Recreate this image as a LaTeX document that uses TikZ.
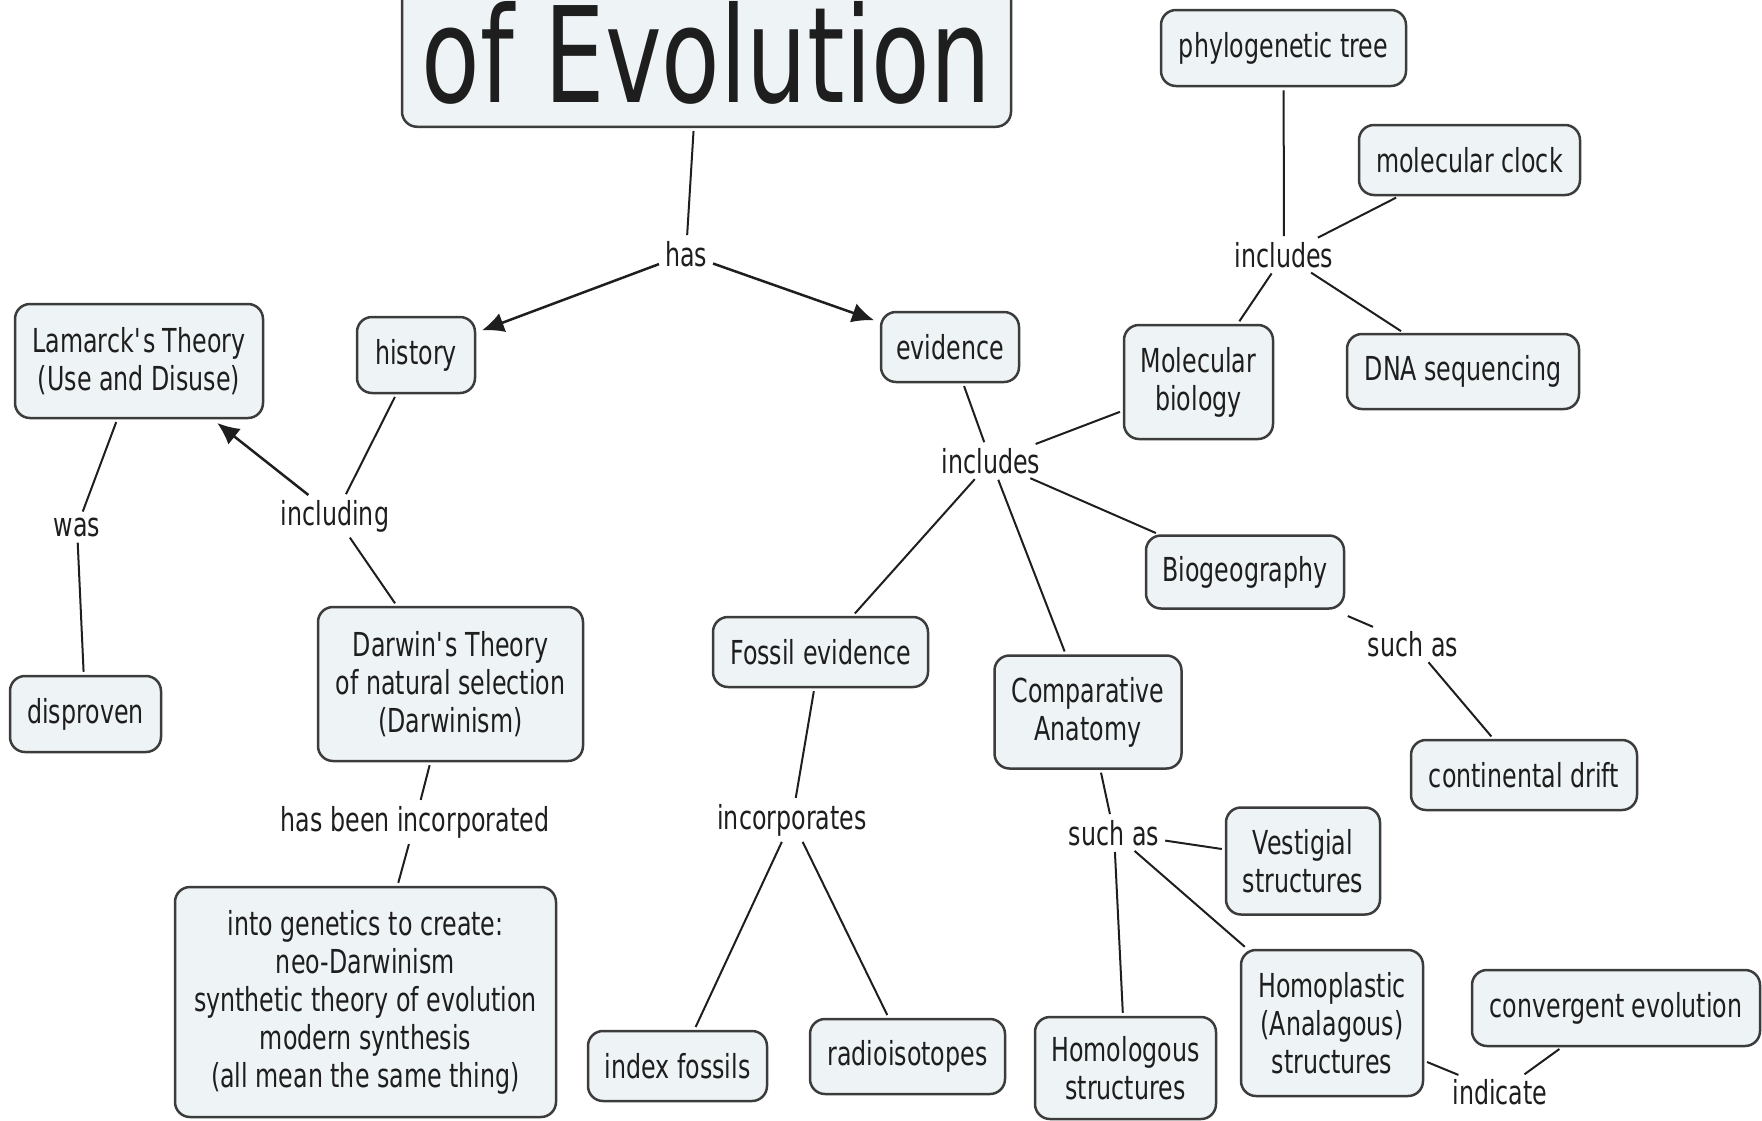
\documentclass[tikz,border=0pt]{standalone}
\usepackage{fontspec}
\setmainfont{DejaVu Sans}[FakeStretch=0.72]
\usetikzlibrary{arrows.meta}
\definecolor{boxfill}{HTML}{EEF3F5}
\definecolor{boxline}{HTML}{3C3C3C}
\definecolor{ink}{HTML}{1E1E1E}
\begin{document}
\begin{tikzpicture}[x=1pt,y=-1pt,
  font=\fontsize{33}{38}\selectfont,
  concept/.style={draw=boxline,fill=boxfill,line width=2.5pt,rounded corners=15pt,align=center,text=ink,inner sep=0pt},
  link/.style={text=ink,inner sep=3pt},
  conn/.style={draw=ink,line width=2pt,shorten <=3pt,shorten >=3pt},
  arr/.style={conn,line width=2.5pt,-{Latex[length=22pt,width=20pt]},shorten >=6pt}]
\useasboundingbox (0,0) rectangle (1762,1120);
\clip (0,0) rectangle (1762,1120);
% main concept
\node[concept,anchor=south,minimum width=609,text height=394pt,text depth=24pt,font=\fontsize{133}{140}\selectfont] (title) at (706.5,128) {of Evolution};
\node[link] (has) at (686,254) {has};
% history side
\node[concept,minimum width=118,minimum height=76] (history) at (416,355) {history};
\node[link] (including) at (335,516) {including};
\node[concept,minimum width=248,minimum height=114] (lamarck) at (139,361) {Lamarck\textquotesingle s Theory\\(Use and Disuse)};
\node[link] (was) at (77,527) {was};
\node[concept,minimum width=151,minimum height=76] (disproven) at (85.5,714) {disproven};
\node[concept,minimum width=265,minimum height=154] (darwin) at (450.5,684) {Darwin\textquotesingle s Theory\\of natural selection\\(Darwinism)};
\node[link] (hasbeen) at (415,822) {has been incorporated};
\node[concept,minimum width=381,minimum height=230] (into) at (365.5,1002) {into genetics to create:\\neo-Darwinism\\synthetic theory of evolution\\modern synthesis\\(all mean the same thing)};
% evidence side
\node[concept,minimum width=138,minimum height=70] (evidence) at (950,347) {evidence};
\node[link] (inclev) at (991,461) {includes};
\node[concept,minimum width=149,minimum height=114] (molbio) at (1198.5,382) {Molecular\\biology};
\node[link] (inclmol) at (1284,255) {includes};
\node[concept,minimum width=245,minimum height=76] (phylo) at (1283.5,48) {phylogenetic tree};
\node[concept,minimum width=221,minimum height=70] (molclock) at (1469.5,160) {molecular clock};
\node[concept,minimum width=232,minimum height=75] (dna) at (1463,371.5) {DNA sequencing};
\node[concept,minimum width=198,minimum height=73] (biogeo) at (1245,572) {Biogeography};
\node[link] (suchbio) at (1413,644) {such as};
\node[concept,minimum width=226,minimum height=70] (drift) at (1524,775) {continental drift};
\node[concept,minimum width=215,minimum height=70] (fossil) at (820.5,652) {Fossil evidence};
\node[link] (incorp) at (792,820) {incorporates};
\node[concept,minimum width=179,minimum height=70] (index) at (677.5,1066) {index fossils};
\node[concept,minimum width=195,minimum height=75] (radio) at (907.5,1056.5) {radioisotopes};
\node[concept,minimum width=187,minimum height=113] (compar) at (1088,712) {Comparative\\Anatomy};
\node[link] (suchanat) at (1114,833) {such as};
\node[concept,minimum width=154,minimum height=107] (vestigial) at (1303,861) {Vestigial\\structures};
\node[concept,minimum width=181,minimum height=102] (homologous) at (1125.5,1068) {Homologous\\structures};
\node[concept,minimum width=182,minimum height=146] (homoplastic) at (1332,1023) {Homoplastic\\(Analagous)\\structures};
\node[link] (indicate) at (1500,1092) {indicate};
\node[concept,minimum width=288,minimum height=76] (convergent) at (1616,1008) {convergent evolution};
% connectors
\draw[conn] (title) -- (has);
\draw[arr] (has) -- (history);
\draw[arr] (has) -- (evidence);
\draw[conn] (history) -- (including);
\draw[arr] (including) -- (lamarck);
\draw[conn] (including) -- (darwin);
\draw[conn] (lamarck) -- (was);
\draw[conn] (was) -- (disproven);
\draw[conn] (darwin) -- (hasbeen);
\draw[conn] (hasbeen) -- (into);
\draw[conn] (evidence) -- (inclev);
\draw[conn] (inclev) -- (molbio);
\draw[conn] (inclev) -- (biogeo);
\draw[conn] (inclev) -- (fossil);
\draw[conn] (inclev) -- (compar);
\draw[conn] (molbio) -- (inclmol);
\draw[conn] (inclmol) -- (phylo);
\draw[conn] (inclmol) -- (molclock);
\draw[conn] (inclmol) -- (dna);
\draw[conn,shorten <=16pt] (biogeo) -- (suchbio);
\draw[conn] (suchbio) -- (drift);
\draw[conn] (fossil) -- (incorp);
\draw[conn] (incorp) -- (index);
\draw[conn] (incorp) -- (radio);
\draw[conn] (compar) -- (suchanat);
\draw[conn] (suchanat) -- (vestigial);
\draw[conn] (suchanat) -- (homologous);
\draw[conn] (suchanat) -- (homoplastic);
\draw[conn] (homoplastic) -- (indicate);
\draw[conn] (indicate) -- (convergent);
\end{tikzpicture}
\end{document}
